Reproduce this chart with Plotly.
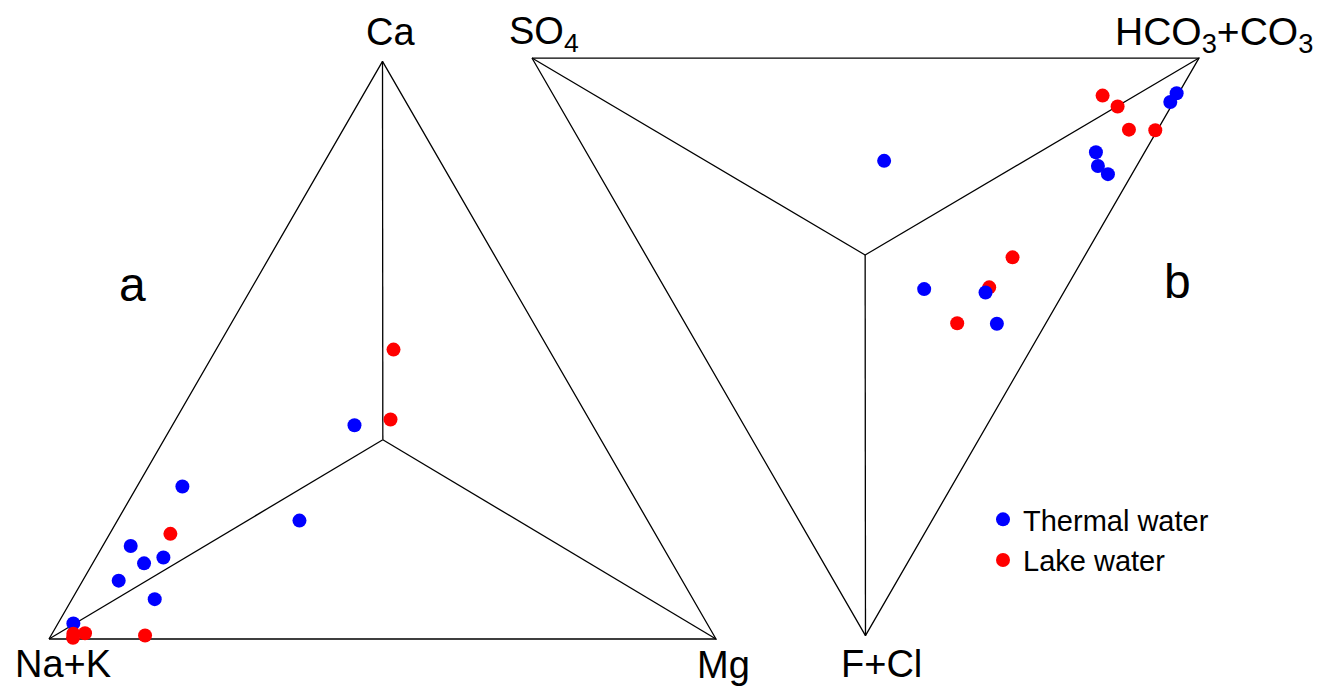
import numpy as np
import plotly.graph_objects as go

# ---------------- data (percent) ----------------
# Triangle a : cations
a_thermal_ca = [37.0, 26.4, 20.5, 16.1, 13.1, 14.1, 10.1, 6.9, 2.7]
a_thermal_mg = [27.3, 6.8, 27.3, 4.2, 7.7, 10.1, 5.4, 12.4, 2.3]
a_thermal_nak = [35.7, 66.8, 52.2, 79.7, 79.2, 75.8, 84.5, 80.7, 95.0]

a_lake_ca = [50.1, 38.0, 18.2, 1.0, 0.9, 0.2, 0.6]
a_lake_mg = [26.6, 32.2, 9.1, 4.9, 3.2, 3.5, 14.1]
a_lake_nak = [23.3, 29.8, 72.7, 94.1, 95.9, 96.3, 85.3]

# Triangle b : anions
b_thermal_so4 = [0.3, 0.5, 7.3, 5.8, 3.6, 38.3, 21.2, 11.7, 7.3]
b_thermal_hco3 = [93.6, 91.9, 76.4, 75.5, 76.3, 43.9, 38.8, 47.7, 46.7]
b_thermal_fcl = [6.1, 7.6, 16.3, 18.7, 20.1, 17.8, 40.0, 40.6, 46.0]

b_lake_so4 = [11.2, 8.0, 4.3, 0.3, 10.7, 11.6, 13.3]
b_lake_hco3 = [82.3, 83.6, 83.3, 87.2, 54.8, 48.7, 40.8]
b_lake_fcl = [6.5, 8.4, 12.4, 12.5, 34.5, 39.7, 45.9]

# inner junction points of the two triangles (percent)
a_junction = {"ca": 34.5, "mg": 32.8, "nak": 32.7}
b_junction = {"so4": 33.0, "hco3": 32.9, "fcl": 34.1}

series_names = ["Thermal water", "Lake water"]
series_colors = ["#0000FF", "#FF0000"]

# ---------------- geometry helpers ----------------
S = np.sqrt(3) / 2
B_OX, B_OY = 0.7241, 0.871  # position of triangle b's SO4 corner


def tern_a(ca, mg, nak):
    ca, mg, nak = (np.asarray(v, float) for v in (ca, mg, nak))
    tot = ca + mg + nak
    ca, mg = ca / tot, mg / tot
    return mg + ca / 2, ca * S


def tern_b(so4, hco3, fcl):
    so4, hco3, fcl = (np.asarray(v, float) for v in (so4, hco3, fcl))
    tot = so4 + hco3 + fcl
    hco3, fcl = hco3 / tot, fcl / tot
    return B_OX + hco3 + fcl / 2, B_OY - fcl * S


fig = go.Figure()

# frame lines
lx, ly = [], []
corners_a = [tern_a(0, 0, 100), tern_a(0, 100, 0), tern_a(100, 0, 0)]
ja = tern_a(a_junction["ca"], a_junction["mg"], a_junction["nak"])
for seg in [[corners_a[0], corners_a[1], corners_a[2], corners_a[0]]] + [[c, ja] for c in corners_a]:
    lx += [float(p[0]) for p in seg] + [None]
    ly += [float(p[1]) for p in seg] + [None]
corners_b = [tern_b(100, 0, 0), tern_b(0, 100, 0), tern_b(0, 0, 100)]
jb = tern_b(b_junction["so4"], b_junction["hco3"], b_junction["fcl"])
for seg in [[corners_b[0], corners_b[1], corners_b[2], corners_b[0]]] + [[c, jb] for c in corners_b]:
    lx += [float(p[0]) for p in seg] + [None]
    ly += [float(p[1]) for p in seg] + [None]
fig.add_trace(go.Scatter(x=lx, y=ly, mode="lines", line=dict(color="black", width=1.3),
                         showlegend=False, hoverinfo="skip"))

msize = 14
xa, ya = tern_a(a_thermal_ca, a_thermal_mg, a_thermal_nak)
fig.add_trace(go.Scatter(x=xa, y=ya, mode="markers", name=series_names[0], legendgroup="t",
                         marker=dict(color=series_colors[0], size=msize)))
xa, ya = tern_a(a_lake_ca, a_lake_mg, a_lake_nak)
fig.add_trace(go.Scatter(x=xa, y=ya, mode="markers", name=series_names[1], legendgroup="l",
                         marker=dict(color=series_colors[1], size=msize)))
xb, yb = tern_b(b_lake_so4, b_lake_hco3, b_lake_fcl)
fig.add_trace(go.Scatter(x=xb, y=yb, mode="markers", name=series_names[1], legendgroup="l",
                         showlegend=False, marker=dict(color=series_colors[1], size=msize)))
xb, yb = tern_b(b_thermal_so4, b_thermal_hco3, b_thermal_fcl)
fig.add_trace(go.Scatter(x=xb, y=yb, mode="markers", name=series_names[0], legendgroup="t",
                         showlegend=False, marker=dict(color=series_colors[0], size=msize)))

W, H = 1336, 697
PX = 667.0
FONT = "Liberation Sans, Arial, sans-serif"


def ann(text, px, py, size):
    return dict(text=text, x=px / W, y=1 - py / H, xref="paper", yref="paper",
                showarrow=False, xanchor="center", yanchor="middle",
                font=dict(size=size, color="black", family=FONT))


annotations = [
    ann("Ca", 382, 24, 38),
    ann("SO<sub>4</sub>", 536, 26, 38),
    ann("HCO<sub>3</sub>+CO<sub>3</sub>", 1206, 26, 39),
    ann("Na+K", 55, 656, 38),
    ann("Mg", 716, 657, 38),
    ann("F+Cl", 873, 656, 38),
    ann("a", 124, 276, 48),
    ann("b", 1169, 274, 48),
]

fig.update_layout(
    width=W, height=H,
    margin=dict(l=0, r=0, t=0, b=0),
    paper_bgcolor="white", plot_bgcolor="white",
    xaxis=dict(range=[-41 / PX, (W - 41) / PX], visible=False, fixedrange=True),
    yaxis=dict(range=[-(H - 631) / PX, 631 / PX], visible=False, fixedrange=True),
    annotations=annotations,
    legend=dict(x=975 / W, y=1 - 486 / H, xanchor="left", yanchor="top",
                bgcolor="rgba(0,0,0,0)", tracegroupgap=0,
                font=dict(size=29, color="black", family=FONT)),
    showlegend=True,
)

fig.write_html("out.html")
